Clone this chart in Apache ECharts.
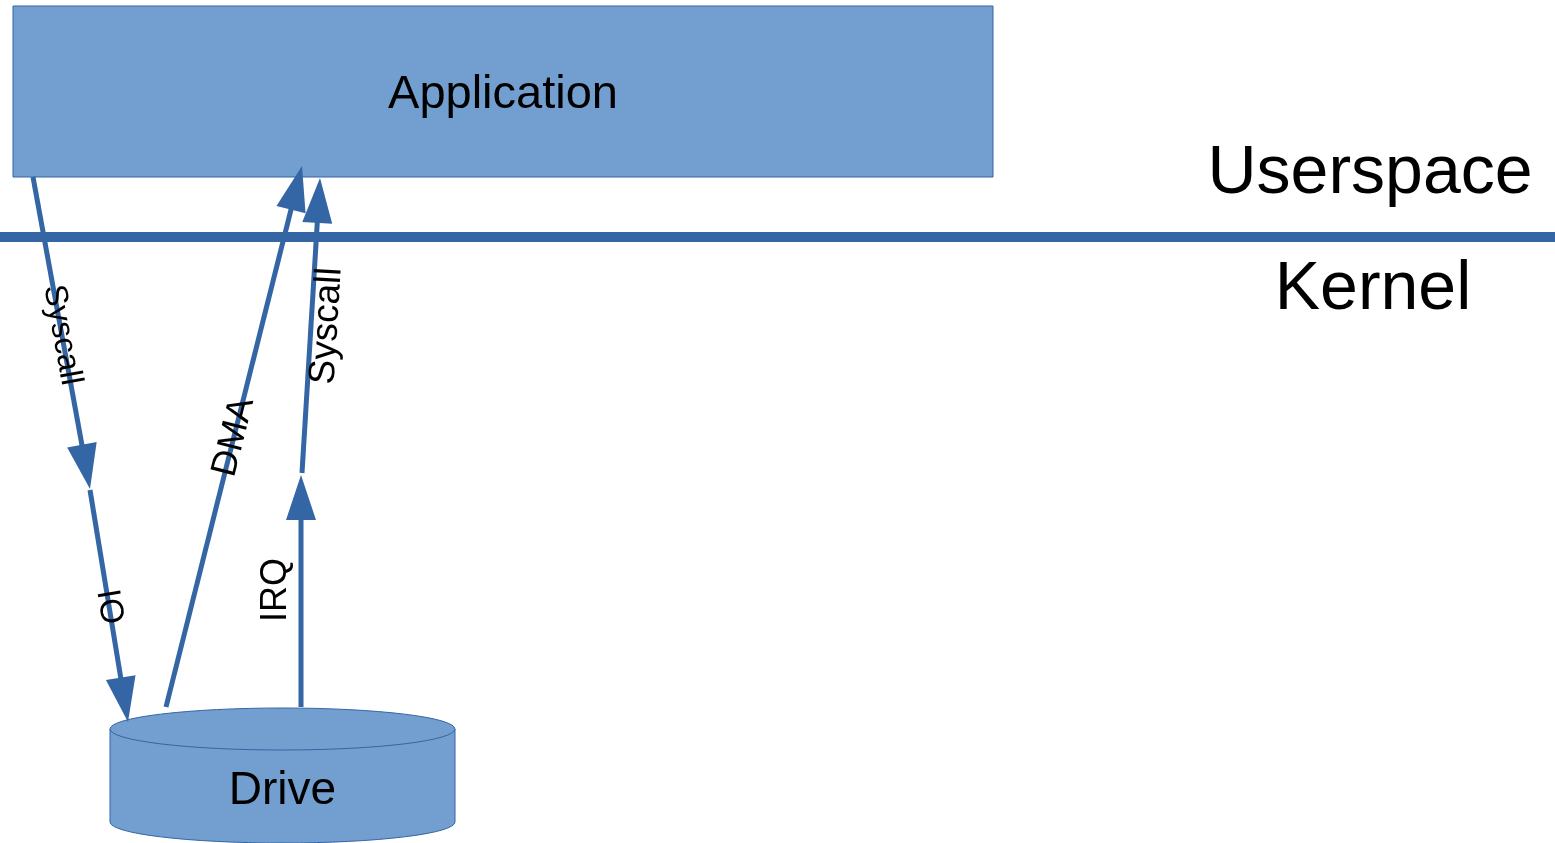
<!DOCTYPE html>
<html>
<head>
<meta charset="utf-8">
<script src="https://cdn.jsdelivr.net/npm/echarts@6/dist/echarts.min.js"></script>
<style>html,body{margin:0;padding:0;background:#fff}#c{width:1555px;height:843px}</style>
</head>
<body>
<div id="c"></div>
<script>
// ---- diagram data (in diagram units: x 0..1555, y 0..843 downward) ----
const nodeNames   = ['Application', 'Drive'];
const nodeBounds  = [[13, 6, 993, 177], [110, 708, 455, 843]];   // x0, y0, x1, y1
const layerNames  = ['Userspace', 'Kernel'];
const layerLabelAt = [[1370, 170], [1373, 286]];
const boundaryY   = [237];
const arrowNames  = ['Syscall', 'IO', 'DMA', 'IRQ', 'Syscall'];
const arrowPaths  = [[33, 177, 90, 489], [90, 490, 128, 722], [166, 707, 302, 166], [301, 707, 301, 475], [302, 473, 320, 178]]; // from x,y -> to x,y
const arrowLabelAt = [[62, 335], [109, 607], [234, 437], [276, 590], [327, 326]];

// ---- styles ----
const FILL = '#729fcf', EDGE = '#3465a4', FONT = '"Liberation Sans", Arial, sans-serif';
const labelSizes = [32, 33, 36, 36, 37];
const TEXT_DY = 4;

const chart = echarts.init(document.getElementById('c'), null, {renderer: 'canvas'});

function rectNode(params, api) {
  const a = api.coord([api.value(0), api.value(1)]);
  const b = api.coord([api.value(2), api.value(3)]);
  const name = nodeNames[params.dataIndex];
  const children = [];
  if (params.dataIndex === 0) {
    children.push({type: 'rect', shape: {x: a[0], y: a[1], width: b[0] - a[0], height: b[1] - a[1]},
      style: {fill: FILL, stroke: EDGE, lineWidth: 1}});
    children.push({type: 'text', x: (a[0] + b[0]) / 2, y: (a[1] + b[1]) / 2 + TEXT_DY,
      style: {text: name, fontSize: 47, fontFamily: FONT, fill: '#000', align: 'center', verticalAlign: 'middle'}});
  } else {
    const ry = 21, rx = (b[0] - a[0]) / 2;
    const yt = a[1] + ry, yb = b[1] - ry;
    const body = `M${a[0]},${yt} A${rx},${ry} 0 0 1 ${b[0]},${yt} L${b[0]},${yb} A${rx},${ry} 0 0 1 ${a[0]},${yb} Z`;
    const rim = `M${a[0]},${yt} A${rx},${ry} 0 0 0 ${b[0]},${yt}`;
    children.push({type: 'path', shape: {pathData: body}, style: {fill: FILL, stroke: EDGE, lineWidth: 1}});
    children.push({type: 'path', shape: {pathData: rim}, style: {fill: null, stroke: EDGE, lineWidth: 1}});
    children.push({type: 'text', x: (a[0] + b[0]) / 2, y: (yt + b[1]) / 2 + 1 + TEXT_DY,
      style: {text: name, fontSize: 46, fontFamily: FONT, fill: '#000', align: 'center', verticalAlign: 'middle'}});
  }
  return {type: 'group', children};
}

function arrow(params, api) {
  const p1 = api.coord([api.value(0), api.value(1)]);
  const p2 = api.coord([api.value(2), api.value(3)]);
  const dx = p2[0] - p1[0], dy = p2[1] - p1[1];
  const len = Math.hypot(dx, dy), ux = dx / len, uy = dy / len;
  const hl = 45, hw = 15;
  const base = [p2[0] - ux * hl, p2[1] - uy * hl];
  const L = [base[0] - uy * hw, base[1] + ux * hw];
  const R = [base[0] + uy * hw, base[1] - ux * hw];
  const i = params.dataIndex;
  const c = api.coord(arrowLabelAt[i]);
  const rot = Math.atan2(-dy, dx);
  return {type: 'group', children: [
    {type: 'line', shape: {x1: p1[0], y1: p1[1], x2: base[0] + ux * 2, y2: base[1] + uy * 2},
      style: {stroke: EDGE, lineWidth: 5}},
    {type: 'polygon', shape: {points: [p2, L, R]}, style: {fill: EDGE}},
    {type: 'text', x: c[0], y: c[1], rotation: rot,
      style: {text: arrowNames[i], fontSize: labelSizes[i], fontFamily: FONT, fill: '#000', align: 'center', verticalAlign: 'middle'}}
  ]};
}

function boundary(params, api) {
  const a = api.coord([0, api.value(0)]);
  const b = api.coord([1555, api.value(0)]);
  const children = [{type: 'line', shape: {x1: a[0], y1: a[1], x2: b[0], y2: b[1]}, style: {stroke: EDGE, lineWidth: 10}}];
  layerNames.forEach((n, k) => {
    const p = api.coord(layerLabelAt[k]);
    children.push({type: 'text', x: p[0], y: p[1] + TEXT_DY,
      style: {text: n, fontSize: 68, fontFamily: FONT, fill: '#000', align: 'center', verticalAlign: 'middle'}});
  });
  return {type: 'group', children};
}

chart.setOption({
  animation: false,
  grid: {left: 0, right: 0, top: 0, bottom: 0},
  xAxis: {type: 'value', min: 0, max: 1555, show: false},
  yAxis: {type: 'value', min: 0, max: 843, inverse: true, show: false},
  series: [
    {type: 'custom', renderItem: rectNode, data: nodeBounds, clip: false, silent: true},
    {type: 'custom', renderItem: boundary, data: boundaryY.map(v => [v]), clip: false, silent: true},
    {type: 'custom', renderItem: arrow, data: arrowPaths, clip: false, silent: true}
  ]
});
</script>
</body>
</html>
